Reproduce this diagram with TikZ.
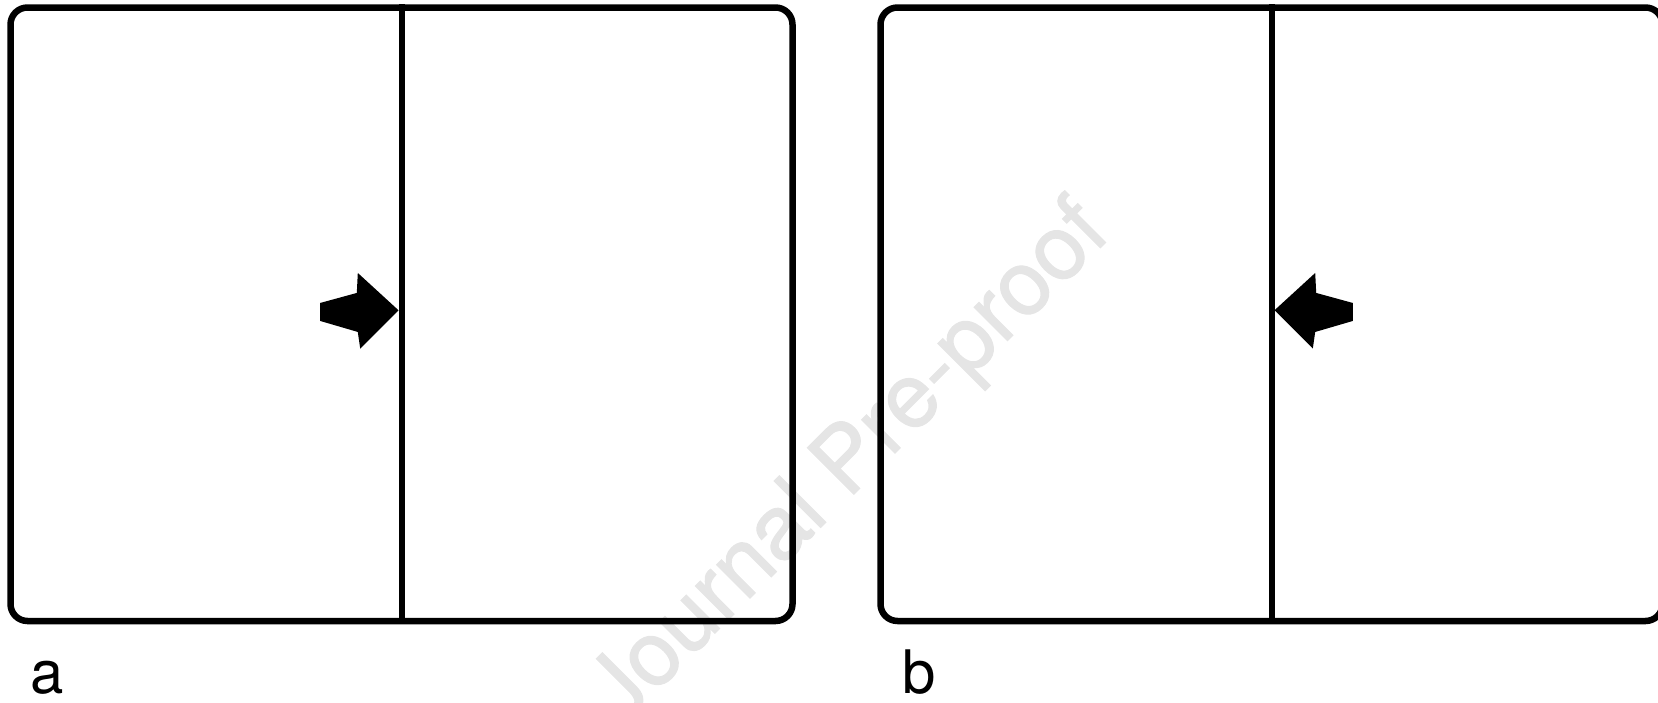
\documentclass[tikz,border=0pt]{standalone}
\usepackage{fontspec}
\setmainfont{TeX Gyre Heros}
\newfontfamily\markfont[FakeBold=1.2]{TeX Gyre Heros}
\usetikzlibrary{positioning}
\tikzset{
  panel/.style={draw=black, line width=6.5pt, rounded corners=17pt, minimum width=782pt, minimum height=613.5pt, inner sep=0pt},
  divider/.style={line width=6pt},
  pusher/.pic={\fill (0,0) -- (-40.7,-37.3) -- (-41.7,-17.3) -- (-78.3,-7.3) -- (-78.3,10.7) -- (-40.7,21.7) -- (-38.3,38.3) -- cycle;},
  tag/.style={anchor=base west, inner sep=0pt, font=\fontsize{60}{64}\selectfont},
  watermark/.style={anchor=base, rotate=45, inner sep=0pt, text=black!10, font=\markfont\fontsize{90}{90}\selectfont}
}
\begin{document}
\begin{tikzpicture}[x=1pt, y=-1pt]
\useasboundingbox (0,0) rectangle (1658,702);
\node[watermark] (wm) at (867,481) {Journal Pre-proof};
% panel a
\node[panel] (boxa) at (401.5,314.25) {};
\draw[divider] (boxa.north) -- (boxa.south);
\coordinate (tipa) at ([xshift=-3pt, yshift=4pt]boxa.center);
\pic at (tipa) {pusher};
\node[tag] (laba) at (30,693) {a};
% panel b
\node[panel] (boxb) at (1271.5,314.25) {};
\draw[divider] (boxb.north) -- (boxb.south);
\coordinate (tipb) at ([xshift=3pt, yshift=4pt]boxb.center);
\pic[xscale=-1] at (tipb) {pusher};
\node[tag] (labb) at (902,693) {b};
\end{tikzpicture}
\end{document}
